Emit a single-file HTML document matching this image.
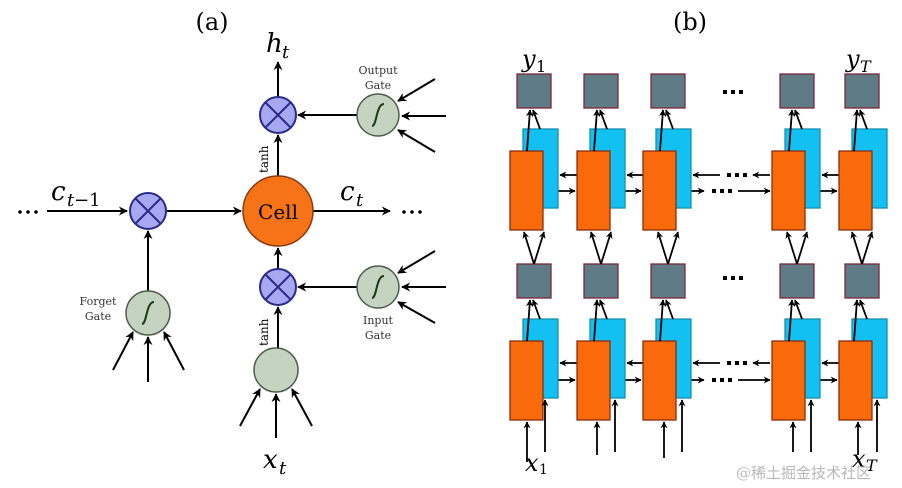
<!DOCTYPE html>
<html><head><meta charset="utf-8"><style>
html,body{margin:0;padding:0;background:#fff;}
svg{display:block;}
text{font-family:"DejaVu Serif","Liberation Serif",serif;}
</style></head><body>
<svg width="902" height="488" viewBox="0 0 902 488" xmlns="http://www.w3.org/2000/svg">
<defs>
<marker id="ar" viewBox="0 0 10 10" refX="9" refY="5" markerWidth="9" markerHeight="9" markerUnits="userSpaceOnUse" orient="auto"><path d="M0,0 L10,5 L0,10 L3,5 z" fill="#000"/></marker>
<marker id="as" viewBox="0 0 10 10" refX="9" refY="5" markerWidth="7" markerHeight="7" markerUnits="userSpaceOnUse" orient="auto"><path d="M0,0 L10,5 L0,10 L3,5 z" fill="#000"/></marker>
</defs>
<rect width="902" height="488" fill="#fff"/>
<!-- (a) -->
<text x="212" y="30" font-size="24" text-anchor="middle">(a)</text>
<text x="690" y="30" font-size="24" text-anchor="middle">(b)</text>
<g stroke="#000" stroke-width="2" fill="none">
<line x1="47" y1="211" x2="127" y2="211" marker-end="url(#ar)"/>
<line x1="166" y1="211" x2="241" y2="211" marker-end="url(#ar)"/>
<line x1="313" y1="211" x2="390" y2="211" marker-end="url(#ar)"/>
<line x1="148" y1="291" x2="148" y2="231" marker-end="url(#ar)"/>
<line x1="278" y1="176" x2="278" y2="135" marker-end="url(#ar)"/>
<line x1="278" y1="97" x2="278" y2="62" marker-end="url(#ar)"/>
<line x1="278" y1="268" x2="278" y2="248" marker-end="url(#ar)"/>
<line x1="278" y1="348" x2="278" y2="307" marker-end="url(#ar)"/>
<line x1="357" y1="115" x2="298" y2="115" marker-end="url(#ar)"/>
<line x1="357" y1="287" x2="298" y2="287" marker-end="url(#ar)"/>
<line x1="435" y1="79" x2="398" y2="101" marker-end="url(#ar)"/>
<line x1="446" y1="116" x2="402" y2="116" marker-end="url(#ar)"/>
<line x1="435" y1="152" x2="398" y2="130" marker-end="url(#ar)"/>
<line x1="435" y1="251" x2="398" y2="273" marker-end="url(#ar)"/>
<line x1="446" y1="287" x2="402" y2="287" marker-end="url(#ar)"/>
<line x1="435" y1="323" x2="398" y2="302" marker-end="url(#ar)"/>
<line x1="113" y1="370" x2="133" y2="332" marker-end="url(#ar)"/>
<line x1="148" y1="382" x2="148" y2="337" marker-end="url(#ar)"/>
<line x1="184" y1="370" x2="164" y2="332" marker-end="url(#ar)"/>
<line x1="240" y1="426" x2="260" y2="389" marker-end="url(#ar)"/>
<line x1="276" y1="438" x2="276" y2="394" marker-end="url(#ar)"/>
<line x1="312" y1="426" x2="292" y2="389" marker-end="url(#ar)"/>
</g>
<g fill="#a8a8f2" stroke="#2a2a8a" stroke-width="2">
<circle cx="148" cy="211" r="18"/><circle cx="278" cy="115" r="18"/><circle cx="278" cy="287" r="18"/>
</g>
<g stroke="#2a2a8a" stroke-width="2">
<path d="M135,198 L161,224 M161,198 L135,224"/>
<path d="M265,102 L291,128 M291,102 L265,128"/>
<path d="M265,274 L291,300 M291,274 L265,300"/>
</g>
<circle cx="278" cy="211" r="35" fill="#f77317" stroke="#8a3a10" stroke-width="1.5"/>
<text x="278" y="219" font-size="20" text-anchor="middle">Cell</text>
<g fill="#c4d4c0" stroke="#4d5e4a" stroke-width="1.5">
<circle cx="378" cy="115" r="21"/><circle cx="378" cy="287" r="21"/><circle cx="148" cy="313" r="22"/><circle cx="276" cy="370" r="22"/>
</g>
<g stroke="#1a3a1a" stroke-width="2" fill="none">
<path d="M372,126 C377,126 376,104 384,104"/>
<path d="M372,298 C377,298 376,276 384,276"/>
<path d="M142,324 C147,324 146,302 154,302"/>
</g>
<g font-size="11" fill="#333" text-anchor="middle">
<text x="378" y="74">Output</text><text x="378" y="89">Gate</text>
<text x="378" y="324">Input</text><text x="378" y="339">Gate</text>
<text x="98" y="305">Forget</text><text x="98" y="320">Gate</text>
</g>
<text font-size="12" transform="translate(268,173) rotate(-90)">tanh</text>
<text font-size="12" transform="translate(268,346) rotate(-90)">tanh</text>
<g fill="#000"><circle cx="20" cy="212" r="1.8"/><circle cx="28" cy="212" r="1.8"/><circle cx="36" cy="212" r="1.8"/>
<circle cx="404" cy="212" r="1.8"/><circle cx="412" cy="212" r="1.8"/><circle cx="420" cy="212" r="1.8"/></g>
<text x="51" y="200" font-size="26" font-style="italic">c</text><text x="67" y="206" font-size="18" font-style="italic">t</text><text x="74" y="206" font-size="18">−1</text>
<text x="340" y="200" font-size="26" font-style="italic">c</text><text x="356" y="206" font-size="18" font-style="italic">t</text>
<text x="266" y="52" font-size="26" font-style="italic">h</text><text x="282" y="58" font-size="18" font-style="italic">t</text>
<text x="263" y="468" font-size="26" font-style="italic">x</text><text x="279" y="474" font-size="18" font-style="italic">t</text>
<!-- (b) -->
<g stroke="#000" stroke-width="1.8" fill="none">
<line x1="577" y1="175" x2="560" y2="175" marker-end="url(#as)"/>
<line x1="643" y1="175" x2="627" y2="175" marker-end="url(#as)"/>
<line x1="839" y1="175" x2="822" y2="175" marker-end="url(#as)"/>
<line x1="720" y1="175" x2="693" y2="175" marker-end="url(#as)"/>
<line x1="770" y1="175" x2="753" y2="175" marker-end="url(#as)"/>
<line x1="543" y1="191" x2="575" y2="191" marker-end="url(#as)"/>
<line x1="610" y1="191" x2="641" y2="191" marker-end="url(#as)"/>
<line x1="805" y1="191" x2="837" y2="191" marker-end="url(#as)"/>
<line x1="676" y1="191" x2="704" y2="191" marker-end="url(#as)"/>
<line x1="738" y1="191" x2="770" y2="191" marker-end="url(#as)"/>
<line x1="577" y1="363" x2="560" y2="363" marker-end="url(#as)"/>
<line x1="643" y1="363" x2="627" y2="363" marker-end="url(#as)"/>
<line x1="839" y1="363" x2="822" y2="363" marker-end="url(#as)"/>
<line x1="720" y1="363" x2="693" y2="363" marker-end="url(#as)"/>
<line x1="770" y1="363" x2="753" y2="363" marker-end="url(#as)"/>
<line x1="543" y1="380" x2="575" y2="380" marker-end="url(#as)"/>
<line x1="610" y1="380" x2="641" y2="380" marker-end="url(#as)"/>
<line x1="805" y1="380" x2="837" y2="380" marker-end="url(#as)"/>
<line x1="676" y1="380" x2="704" y2="380" marker-end="url(#as)"/>
<line x1="738" y1="380" x2="770" y2="380" marker-end="url(#as)"/>
</g>
<g fill="#000">
<rect x="727" y="173" width="4" height="4"/><rect x="735" y="173" width="4" height="4"/><rect x="743" y="173" width="4" height="4"/>
<rect x="712" y="189" width="4" height="4"/><rect x="720" y="189" width="4" height="4"/><rect x="728" y="189" width="4" height="4"/>
<rect x="727" y="361" width="4" height="4"/><rect x="735" y="361" width="4" height="4"/><rect x="743" y="361" width="4" height="4"/>
<rect x="712" y="378" width="4" height="4"/><rect x="720" y="378" width="4" height="4"/><rect x="728" y="378" width="4" height="4"/>
<rect x="723" y="90" width="4" height="4"/><rect x="731" y="90" width="4" height="4"/><rect x="739" y="90" width="4" height="4"/>
<rect x="723" y="276" width="4" height="4"/><rect x="731" y="276" width="4" height="4"/><rect x="739" y="276" width="4" height="4"/>
</g>
<g stroke-width="1.3">
<g fill="#12c0f2" stroke="#1590b0">
<rect x="523" y="129" width="35" height="79"/><rect x="590" y="129" width="35" height="79"/><rect x="656" y="129" width="35" height="79"/><rect x="785" y="129" width="35" height="79"/><rect x="852" y="129" width="35" height="79"/>
<rect x="523" y="319" width="35" height="79"/><rect x="590" y="319" width="35" height="79"/><rect x="656" y="319" width="35" height="79"/><rect x="785" y="319" width="35" height="79"/><rect x="852" y="319" width="35" height="79"/>
</g>
<g fill="#f96a0a" stroke="#8a2e10">
<rect x="510" y="151" width="33" height="79"/><rect x="577" y="151" width="33" height="79"/><rect x="643" y="151" width="33" height="79"/><rect x="772" y="151" width="33" height="79"/><rect x="839" y="151" width="33" height="79"/>
<rect x="510" y="341" width="33" height="79"/><rect x="577" y="341" width="33" height="79"/><rect x="643" y="341" width="33" height="79"/><rect x="772" y="341" width="33" height="79"/><rect x="839" y="341" width="33" height="79"/>
</g>
<g fill="#5f7c86" stroke="#7a2a3a">
<rect x="517" y="74" width="34" height="34"/><rect x="584" y="74" width="34" height="34"/><rect x="651" y="74" width="34" height="34"/><rect x="780" y="74" width="34" height="34"/><rect x="845" y="74" width="34" height="34"/>
<rect x="517" y="264" width="34" height="34"/><rect x="584" y="264" width="34" height="34"/><rect x="651" y="264" width="34" height="34"/><rect x="780" y="264" width="34" height="34"/><rect x="845" y="264" width="34" height="34"/>
</g>
</g>
<g stroke="#000" stroke-width="1.8" fill="none">
<!-- to gray boxes -->
<line x1="527" y1="151" x2="530" y2="110" marker-end="url(#as)"/><line x1="540" y1="129" x2="533" y2="110" marker-end="url(#as)"/>
<line x1="594" y1="151" x2="597" y2="110" marker-end="url(#as)"/><line x1="607" y1="129" x2="600" y2="110" marker-end="url(#as)"/>
<line x1="660" y1="151" x2="663" y2="110" marker-end="url(#as)"/><line x1="673" y1="129" x2="666" y2="110" marker-end="url(#as)"/>
<line x1="789" y1="151" x2="792" y2="110" marker-end="url(#as)"/><line x1="802" y1="129" x2="795" y2="110" marker-end="url(#as)"/>
<line x1="854" y1="151" x2="857" y2="110" marker-end="url(#as)"/><line x1="867" y1="129" x2="860" y2="110" marker-end="url(#as)"/>
<line x1="527" y1="341" x2="530" y2="300" marker-end="url(#as)"/><line x1="540" y1="319" x2="533" y2="300" marker-end="url(#as)"/>
<line x1="594" y1="341" x2="597" y2="300" marker-end="url(#as)"/><line x1="607" y1="319" x2="600" y2="300" marker-end="url(#as)"/>
<line x1="660" y1="341" x2="663" y2="300" marker-end="url(#as)"/><line x1="673" y1="319" x2="666" y2="300" marker-end="url(#as)"/>
<line x1="789" y1="341" x2="792" y2="300" marker-end="url(#as)"/><line x1="802" y1="319" x2="795" y2="300" marker-end="url(#as)"/>
<line x1="854" y1="341" x2="857" y2="300" marker-end="url(#as)"/><line x1="867" y1="319" x2="860" y2="300" marker-end="url(#as)"/>
<!-- gray to upper layer -->
<line x1="534" y1="264" x2="524" y2="232" marker-end="url(#as)"/><line x1="534" y1="264" x2="544" y2="232" marker-end="url(#as)"/>
<line x1="601" y1="264" x2="591" y2="232" marker-end="url(#as)"/><line x1="601" y1="264" x2="611" y2="232" marker-end="url(#as)"/>
<line x1="668" y1="264" x2="658" y2="232" marker-end="url(#as)"/><line x1="668" y1="264" x2="678" y2="232" marker-end="url(#as)"/>
<line x1="797" y1="264" x2="787" y2="232" marker-end="url(#as)"/><line x1="797" y1="264" x2="807" y2="232" marker-end="url(#as)"/>
<line x1="862" y1="264" x2="852" y2="232" marker-end="url(#as)"/><line x1="862" y1="264" x2="872" y2="232" marker-end="url(#as)"/>
<!-- inputs -->
<line x1="527" y1="462" x2="527" y2="422" marker-end="url(#as)"/><line x1="545" y1="452" x2="545" y2="400" marker-end="url(#as)"/>
<line x1="597" y1="455" x2="597" y2="422" marker-end="url(#as)"/><line x1="615" y1="452" x2="615" y2="400" marker-end="url(#as)"/>
<line x1="664" y1="458" x2="664" y2="422" marker-end="url(#as)"/><line x1="682" y1="452" x2="682" y2="400" marker-end="url(#as)"/>
<line x1="793" y1="452" x2="793" y2="422" marker-end="url(#as)"/><line x1="811" y1="452" x2="811" y2="400" marker-end="url(#as)"/>
<line x1="858" y1="455" x2="858" y2="422" marker-end="url(#as)"/><line x1="877" y1="452" x2="877" y2="400" marker-end="url(#as)"/>
</g>
<text x="522" y="67" font-size="24" font-style="italic">y</text><text x="536" y="72" font-size="16">1</text>
<text x="846" y="67" font-size="24" font-style="italic">y</text><text x="860" y="72" font-size="16" font-style="italic">T</text>
<text x="525" y="471" font-size="24" font-style="italic">x</text><text x="539" y="474" font-size="14">1</text>
<text x="852" y="467" font-size="24" font-style="italic">x</text><text x="866" y="471" font-size="16" font-style="italic">T</text>
<text x="736" y="478" font-size="15" fill="#b8b8b8" font-family="Liberation Sans, Noto Sans CJK SC, sans-serif">@稀土掘金技术社区</text>
</svg>
</body></html>
